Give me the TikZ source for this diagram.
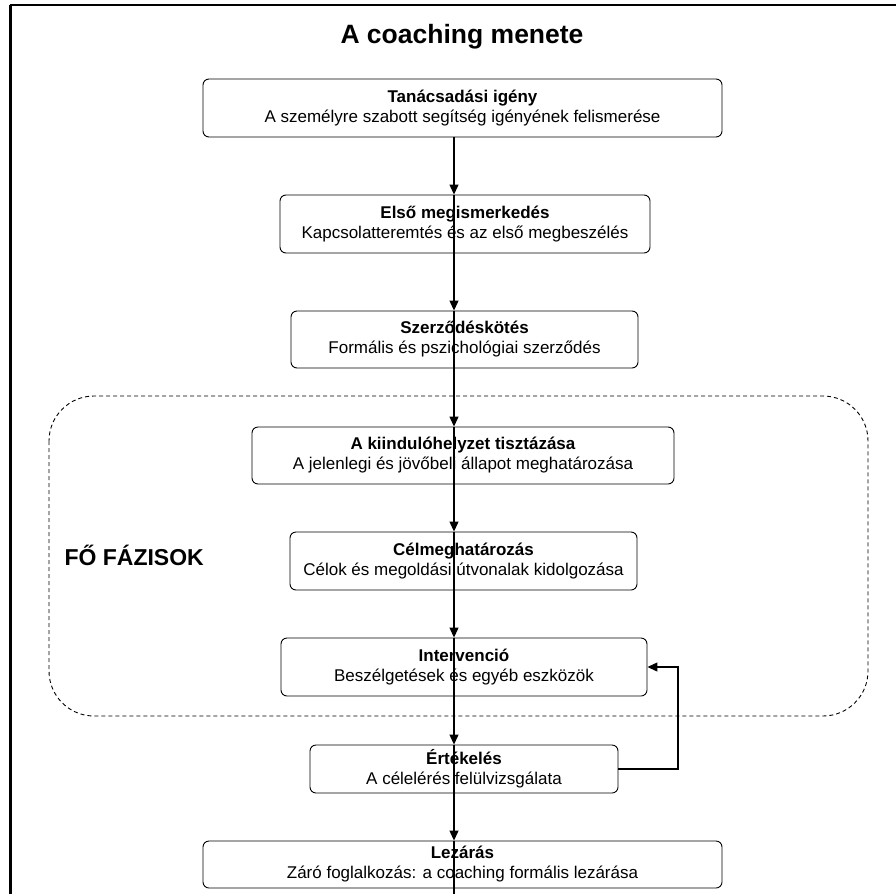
\documentclass[tikz,border=0pt]{standalone}
\usepackage{fontspec}
\setmainfont{Liberation Sans}
\usetikzlibrary{arrows.meta}
\tikzset{
	phase/.style 2 args={draw,rounded corners=6pt,line width=0.9pt,align=center,inner sep=0pt,minimum width=#1,minimum height=#2,font=\fontsize{17}{20}\selectfont},
	flow/.style={line width=1.2pt,-{Triangle[length=10pt,width=9pt]}},
	group/.style={dashed,dash pattern=on 4pt off 3pt,line width=0.9pt,rounded corners=45pt}
}
\begin{document}
\begin{tikzpicture}[x=1pt,y=-1pt]
	\useasboundingbox (0,0) rectangle (896,894);
	\draw[line width=2.5pt] (10.5,894) -- (10.5,4.5);
	\draw[line width=1.2pt] (9.5,5) -- (896,5);

	\node (title) at (462,37) {\fontsize{26.5}{32}\selectfont\bfseries A coaching menete};

	\draw[group] (49,396) rectangle (868,716);
	\node [anchor=west] (main) at (61,555) {\fontsize{23}{28}\selectfont\bfseries FŐ FÁZISOK};

	\node [phase={519pt}{58pt}] (t1) at (462.5,108) {\textbf{Tanácsadási igény}\\A személyre szabott segítség igényének felismerése};
	\node [phase={370pt}{58pt}] (t2) at (465,224) {\textbf{Első megismerkedés}\\Kapcsolatteremtés és az első megbeszélés};
	\node [phase={347pt}{57pt}] (t3) at (464.5,339.5) {\textbf{Szerződéskötés}\\Formális és pszichológiai szerződés};
	\node [phase={422pt}{57pt}] (t4) at (463,455.5) {\textbf{A kiindulóhelyzet tisztázása}\\A jelenlegi és jövőbeli állapot meghatározása};
	\node [phase={347pt}{58pt}] (t5) at (463.5,561) {\textbf{Célmeghatározás}\\Célok és megoldási útvonalak kidolgozása};
	\node [phase={366pt}{58pt}] (t6) at (464,667) {\textbf{Intervenció}\\Beszélgetések és egyéb eszközök};
	\node [phase={308pt}{48pt}] (t7) at (464,769) {\textbf{Értékelés}\\A célelérés felülvizsgálata};
	\node [phase={519pt}{47pt}] (t8) at (462.5,864.5) {\textbf{Lezárás}\\Záró foglalkozás: a coaching formális lezárása};

	\coordinate (spine) at (454,0);
	\coordinate (loop) at (678,0);
	\coordinate (end) at (454,894);

	\draw[flow] (t1.south -| spine) -- (t2.north -| spine);
	\draw[flow] (t2.north -| spine) -- (t3.north -| spine);
	\draw[flow] (t3.north -| spine) -- (t4.north -| spine);
	\draw[flow] (t4.north -| spine) -- (t5.north -| spine);
	\draw[flow] (t5.north -| spine) -- (t6.north -| spine);
	\draw[flow] (t6.north -| spine) -- (t7.north -| spine);
	\draw[flow] (t7.north -| spine) -- (t8.north -| spine);
	\draw[line width=1.2pt] (t8.north -| spine) -- (end);

	\draw[flow] (t7.east) -- (t7.east -| loop) |- (t6.east);
\end{tikzpicture}
\end{document}
